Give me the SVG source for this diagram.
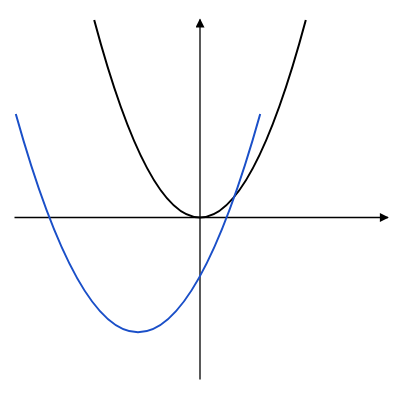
<svg xmlns="http://www.w3.org/2000/svg" width="400" height="400" viewBox="0 0 400 400">
<style>
.axis{stroke:#000;stroke-width:1.3;fill:none}
.curve{fill:none;stroke-width:2}
</style>
<defs>
<marker id="arr" viewBox="0 0 10 10" refX="9" refY="5" markerUnits="userSpaceOnUse" markerWidth="10" markerHeight="9" orient="auto">
<path d="M0,0 L10,5 L0,10 z" fill="#000"/>
</marker>
</defs>
<rect width="400" height="400" fill="#fff"/>
<g id="axes">
<line class="axis" x1="14.5" y1="217.5" x2="388" y2="217.5" marker-end="url(#arr)"/>
<line class="axis" x1="200" y1="379.5" x2="200" y2="19.5" marker-end="url(#arr)"/>
</g>
<g id="curves">
<path class="curve" stroke="#000" d="M94.2,20 Q200,415 305.8,20"/>
<path class="curve" stroke="#1a4fc8" d="M15.8,114 Q138,550.6 260.2,114"/>
</g>
</svg>
